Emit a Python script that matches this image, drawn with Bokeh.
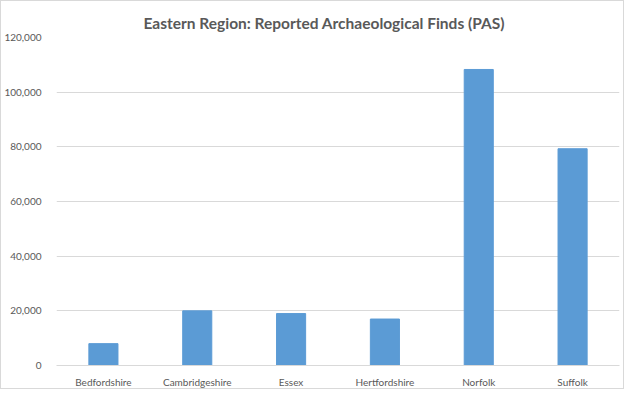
from bokeh.plotting import figure
from bokeh.models import ColumnDataSource, NumeralTickFormatter, FixedTicker, Range1d
from bokeh.embed import file_html
from bokeh.resources import INLINE

title_text = "Eastern Region: Reported Archaeological Finds (PAS)"
counties = ["Bedfordshire", "Cambridgeshire", "Essex", "Hertfordshire", "Norfolk", "Suffolk"]
finds = [8000, 20000, 19000, 17000, 108300, 79300]
y_ticks = [0, 20000, 40000, 60000, 80000, 100000, 120000]

src = ColumnDataSource(dict(county=counties, finds=finds))

FONT = "Lato"
GREY = "#595959"

p = figure(x_range=counties, y_range=Range1d(0, 120000), width=624, height=389,
           output_backend="svg", toolbar_location=None,
           min_border_left=46, min_border_right=6, min_border_top=36, min_border_bottom=21)

p.vbar(x="county", top="finds", width=0.31, source=src, color="#5B9BD5")

p.title.text = title_text
p.title.align = "left"
p.title.offset = 87
p.title.text_font = FONT
p.title.text_font_size = "15.5px"
p.title.text_font_style = "bold"
p.title.text_color = GREY
p.title.text_line_height = 0.6
p.title.standoff = 12

p.outline_line_color = None
p.xgrid.grid_line_color = None
p.ygrid.grid_line_color = "#D9D9D9"
p.ygrid.grid_line_width = 1

p.yaxis.ticker = FixedTicker(ticks=y_ticks)
p.yaxis.formatter = NumeralTickFormatter(format="0,0")
p.yaxis.axis_line_color = None
p.yaxis.major_tick_line_color = None
p.yaxis.minor_tick_line_color = None
p.yaxis.major_label_text_font = FONT
p.yaxis.major_label_text_font_size = "10px"
p.yaxis.major_label_text_color = GREY
p.yaxis.major_label_standoff = 9

p.xaxis.axis_line_color = "#D9D9D9"
p.xaxis.major_tick_line_color = None
p.xaxis.minor_tick_line_color = None
p.xaxis.major_label_text_font = FONT
p.xaxis.major_label_text_font_size = "10px"
p.xaxis.major_label_text_color = GREY
p.xaxis.major_label_standoff = 4
p.x_range.range_padding = 0

p.styles = {"border": "1px solid #D9D9D9", "box-sizing": "border-box"}

open("out.html", "w").write(file_html(p, INLINE))
